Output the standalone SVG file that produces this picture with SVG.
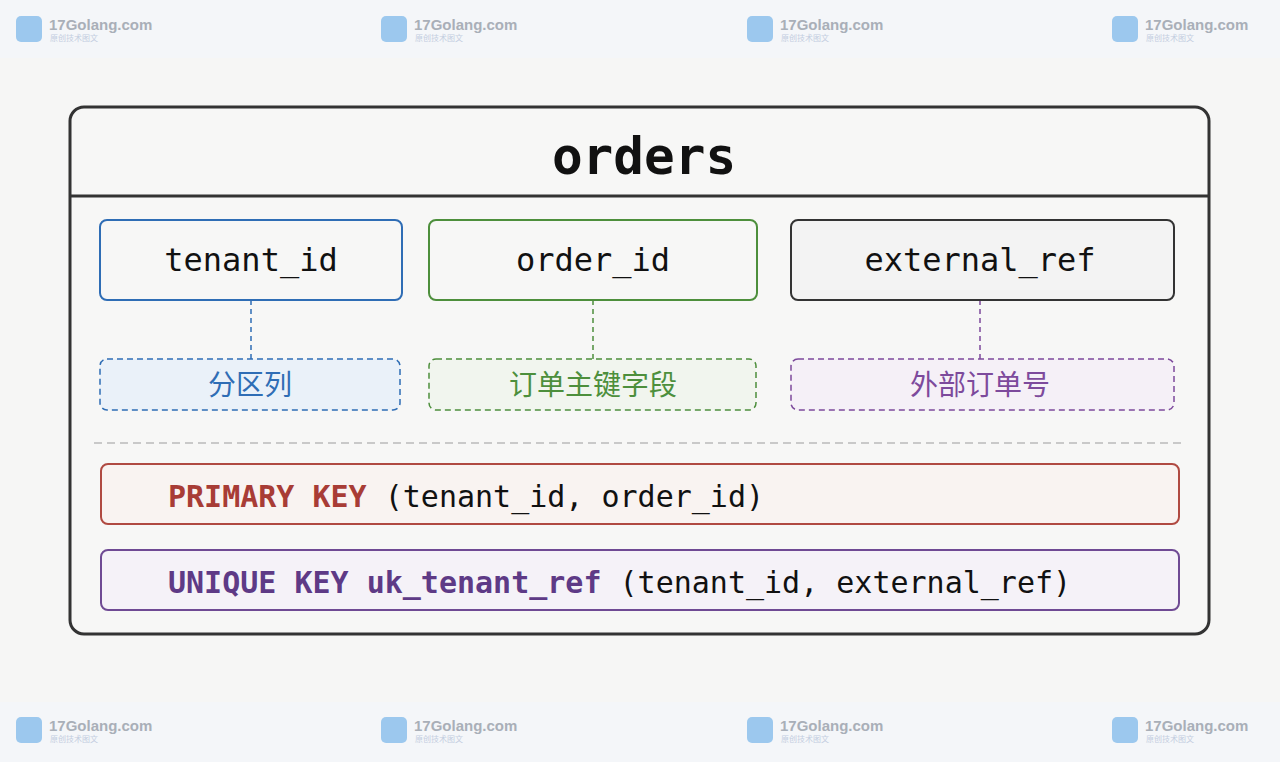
<svg xmlns="http://www.w3.org/2000/svg" width="1280" height="762" viewBox="0 0 1280 762">
<style>
.m{font-family:"DejaVu Sans Mono","Liberation Mono",monospace;}
.c{font-family:"Noto Sans CJK SC",sans-serif;font-size:28px;}
.wm{font-family:"Liberation Sans",sans-serif;font-weight:bold;font-size:15px;fill:#a9afb8;}
.ws{font-family:"Noto Sans CJK SC",sans-serif;font-size:8px;fill:#c3cde0;}
</style>
<defs>
<g id="wmk"><rect x="0" y="0" width="26" height="26" rx="5" fill="#9cc8ee"/><text x="33" y="14" class="wm">17Golang.com</text><text x="34" y="25" class="ws">原创技术图文</text></g>
</defs>
<rect width="1280" height="762" fill="#f6f6f5"/>
<rect width="1280" height="58" fill="#f4f6f9"/>
<rect y="702" width="1280" height="60" fill="#f4f6f9"/>
<g id="watermarks">
<use href="#wmk" x="16" y="16"/><use href="#wmk" x="381" y="16"/><use href="#wmk" x="747" y="16"/><use href="#wmk" x="1112" y="16"/>
<use href="#wmk" x="16" y="717"/><use href="#wmk" x="381" y="717"/><use href="#wmk" x="747" y="717"/><use href="#wmk" x="1112" y="717"/>
</g>
<g id="table">
<rect x="70" y="107" width="1139" height="527" rx="14" fill="#f7f7f6" stroke="#333" stroke-width="3"/>
<line x1="70" y1="196" x2="1209" y2="196" stroke="#333" stroke-width="3"/>
<text x="644" y="174" class="m" font-size="51" font-weight="bold" text-anchor="middle" fill="#111">orders</text>
<line x1="94" y1="443" x2="1186" y2="443" stroke="#bbb" stroke-width="1.5" stroke-dasharray="8,5"/>
</g>
<g id="connectors" stroke-width="1.5" stroke-dasharray="5,4">
<line x1="251" y1="300" x2="251" y2="359" stroke="#2f6db5"/>
<line x1="593" y1="300" x2="593" y2="359" stroke="#4d8f3c"/>
<line x1="980" y1="300" x2="980" y2="359" stroke="#7d4a9c"/>
</g>
<g id="n-tenant"><rect x="100" y="220" width="302" height="80" rx="7" fill="#f7f7f6" stroke="#2f6db5" stroke-width="2"/><text x="251" y="271" class="m" font-size="32" text-anchor="middle" fill="#111">tenant_id</text></g>
<g id="n-order"><rect x="429" y="220" width="328" height="80" rx="7" fill="#f7f7f6" stroke="#4d8f3c" stroke-width="2"/><text x="593" y="271" class="m" font-size="32" text-anchor="middle" fill="#111">order_id</text></g>
<g id="n-ext"><rect x="791" y="220" width="383" height="80" rx="7" fill="#f3f3f3" stroke="#333" stroke-width="2"/><text x="980" y="271" class="m" font-size="32" text-anchor="middle" fill="#111">external_ref</text></g>
<g id="l-tenant"><rect x="100" y="359" width="300" height="51" rx="7" fill="#eaf1f9" stroke="#2f6db5" stroke-width="1.5" stroke-dasharray="6,4"/><text x="250" y="395" class="c" text-anchor="middle" fill="#2f6db5">分区列</text></g>
<g id="l-order"><rect x="429" y="359" width="327" height="51" rx="7" fill="#f1f5ee" stroke="#4d8f3c" stroke-width="1.5" stroke-dasharray="6,4"/><text x="593" y="395" class="c" text-anchor="middle" fill="#4d8f3c">订单主键字段</text></g>
<g id="l-ext"><rect x="791" y="359" width="383" height="51" rx="7" fill="#f5f0f7" stroke="#7d4a9c" stroke-width="1.5" stroke-dasharray="6,4"/><text x="980" y="395" class="c" text-anchor="middle" fill="#7d4a9c">外部订单号</text></g>
<g id="pk"><rect x="101" y="464" width="1078" height="60" rx="7" fill="#f9f3f1" stroke="#b04a42" stroke-width="2"/><text x="168" y="507" class="m" font-size="30" fill="#111"><tspan fill="#a83c36" font-weight="bold">PRIMARY KEY</tspan> (tenant_id, order_id)</text></g>
<g id="uk"><rect x="101" y="550" width="1078" height="60" rx="7" fill="#f5f2f8" stroke="#6f4a94" stroke-width="2"/><text x="168" y="593" class="m" font-size="30" fill="#111"><tspan fill="#5e3a86" font-weight="bold">UNIQUE KEY uk_tenant_ref</tspan> (tenant_id, external_ref)</text></g>
</svg>
